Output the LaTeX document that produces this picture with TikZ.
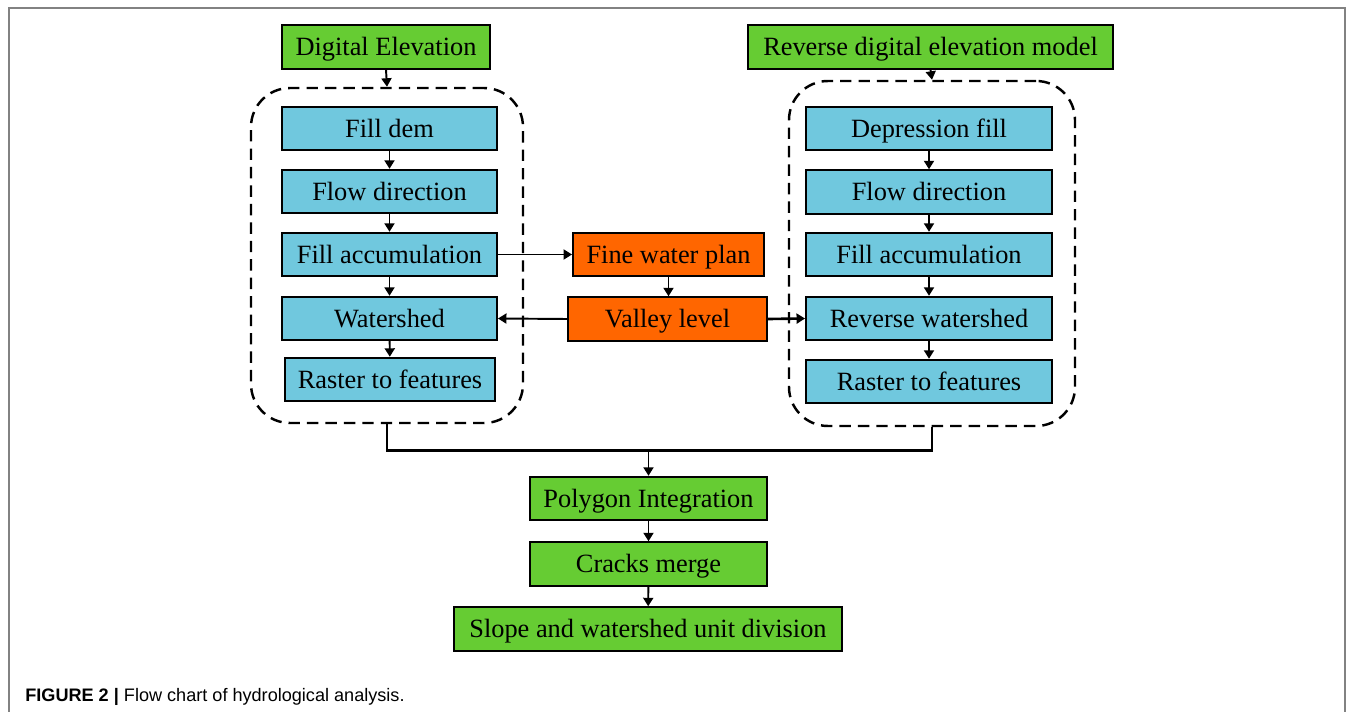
\documentclass[tikz,border=0pt]{standalone}
\usepackage{fontspec}
\setmainfont{Liberation Serif}
\newfontfamily\capfont{Liberation Sans}
\usepackage{tikz}
\usetikzlibrary{arrows.meta,positioning,calc}
\usepackage{xcolor}
\definecolor{stepgreen}{RGB}{102,204,51}
\definecolor{stepblue}{RGB}{112,200,222}
\definecolor{steporange}{RGB}{255,102,0}
\definecolor{framegray}{RGB}{130,130,130}

\begin{document}
\begin{tikzpicture}[
    box/.style={rectangle, draw=black, line width=1.1pt, minimum height=0.87cm, inner sep=0pt, text height=10pt, text depth=0pt, align=center, font=\fontsize{15}{18}\selectfont},
    greenbox/.style={box, fill=stepgreen},
    bluebox/.style={box, fill=stepblue},
    orangebox/.style={box, fill=steporange},
    groupbox/.style={rectangle, rounded corners=0.78cm, draw=black, line width=1.4pt, dash pattern=on 6.5pt off 4pt},
    arrow/.style={-{Triangle[length=0.17cm, width=0.2cm]}, line width=1.1pt}
]
\useasboundingbox (0,0) rectangle (27.1,-14.24);
\draw[framegray, line width=0.8pt] (0.18,-14.3) -- (0.18,-0.16) -- (26.9,-0.16) -- (26.9,-14.3);

% inputs
\node[greenbox, minimum width=4.16cm] (dem) at (7.72,-0.94) {Digital Elevation};
\node[greenbox, minimum width=7.3cm] (rdem) at (18.61,-0.94) {Reverse digital elevation model};

% dashed groups
\node[groupbox, minimum width=5.44cm, minimum height=6.7cm] (groupL) at (7.74,-5.11) {};
\node[groupbox, minimum width=5.72cm, minimum height=6.9cm] (groupR) at (18.64,-5.07) {};

% left chain
\node[bluebox, minimum width=4.3cm] (filldem) at (7.79,-2.57) {Fill dem};
\node[bluebox, minimum width=4.3cm] (flowL) at (7.79,-3.83) {Flow direction};
\node[bluebox, minimum width=4.3cm] (accL) at (7.79,-5.09) {Fill accumulation};
\node[bluebox, minimum width=4.3cm] (shedL) at (7.79,-6.37) {Watershed};
\node[bluebox, minimum width=4.2cm] (rasterL) at (7.8,-7.59) {Raster to features};

% right chain
\node[bluebox, minimum width=4.92cm] (depfill) at (18.58,-2.57) {Depression fill};
\node[bluebox, minimum width=4.92cm] (flowR) at (18.58,-3.84) {Flow direction};
\node[bluebox, minimum width=4.92cm] (accR) at (18.58,-5.09) {Fill accumulation};
\node[bluebox, minimum width=4.92cm] (shedR) at (18.58,-6.37) {Reverse watershed};
\node[bluebox, minimum width=4.92cm] (rasterR) at (18.58,-7.63) {Raster to features};

% middle
\node[orangebox, minimum width=3.82cm] (finewater) at (13.37,-5.09) {Fine water plan};
\node[orangebox, minimum width=3.98cm] (valley) at (13.35,-6.38) {Valley level};

% outputs
\node[greenbox, minimum width=4.74cm] (polygon) at (12.97,-9.97) {Polygon Integration};
\node[greenbox, minimum width=4.74cm] (cracks) at (12.97,-11.28) {Cracks merge};
\node[greenbox, minimum width=7.76cm] (slope) at (12.96,-12.58) {Slope and watershed unit division};
\coordinate[above=0.5cm of polygon] (merge);

\draw[arrow] (dem.south) -- (groupL.north);
\draw[arrow] (rdem.south) -- (groupR.north);
\draw[arrow] (filldem) -- (flowL);
\draw[arrow] (flowL) -- (accL);
\draw[arrow] (accL) -- (shedL);
\draw[arrow] (shedL) -- (rasterL);
\draw[arrow] (depfill) -- (flowR);
\draw[arrow] (flowR) -- (accR);
\draw[arrow] (accR) -- (shedR);
\draw[arrow] (shedR) -- (rasterR);
\draw[arrow] (accL.east) -- (finewater.west);
\draw[arrow] (finewater.south) -- (finewater.south |- valley.north);
\draw[arrow] (valley.west) -- (shedL.east);
\draw[arrow, line width=1.5pt] (valley.east) -- (shedR.west);
\draw[line width=1.5pt] (groupL.south) |- (merge) -| (groupR.south);
\draw[arrow] (merge) -- (polygon.north);
\draw[arrow] (polygon) -- (cracks);
\draw[arrow] (cracks) -- (slope);

\node[anchor=west, inner sep=0pt, font=\capfont\fontsize{10.3}{12}\selectfont] (caption) at (0.5,-13.94) {\textbf{FIGURE 2 |} Flow chart of hydrological analysis.};
\end{tikzpicture}
\end{document}
